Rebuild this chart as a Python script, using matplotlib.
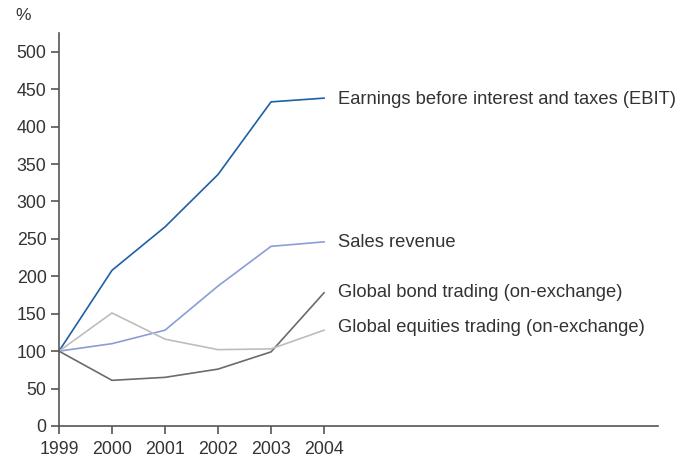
import matplotlib.pyplot as plt

years = [1999, 2000, 2001, 2002, 2003, 2004]
ebit = [100, 208, 266, 336, 433, 438]
sales = [100, 110, 128, 187, 240, 246]
bonds = [100, 61, 65, 76, 99, 178]
equities = [100, 151, 116, 102, 103, 128]

labels = ["Earnings before interest and taxes (EBIT)", "Sales revenue",
          "Global bond trading (on-exchange)", "Global equities trading (on-exchange)"]
label_y = [436, 245, 179, 132]

plt.rcParams['font.family'] = ['Liberation Sans', 'DejaVu Sans']
text_col = '#333333'
axis_col = '#555555'

fig = plt.figure(figsize=(6.9, 4.59), dpi=100)
ax = fig.add_axes([59/690, 33/459, 599/690, 393/459])

series = [ebit, sales, bonds, equities]
colors = ['#1f5fa6', '#8b9dd6', '#6b6b6b', '#bdbdbd']
for vals, c in zip(series, colors):
    ax.plot(years, vals, color=c, lw=1.2)

for lab, y in zip(labels, label_y):
    ax.text(2004.26, y, lab, va='center', ha='left', fontsize=13.2, color=text_col)

ax.set_xlim(1999, 2010.3)
ax.set_ylim(0, 525)
ax.set_xticks(years)
ax.set_yticks(range(0, 501, 50))
for s in ['top', 'right']:
    ax.spines[s].set_visible(False)
for s in ['left', 'bottom']:
    ax.spines[s].set_color(axis_col)
    ax.spines[s].set_linewidth(1.2)
ax.tick_params(colors=axis_col, labelcolor=text_col, labelsize=12.8, length=6, width=1.2, pad=3)
ax.tick_params(axis='x', pad=5)
ax.text(-0.072, 1.025, '%', transform=ax.transAxes, fontsize=12.5, color=text_col, va='bottom')

fig.savefig('out.png', dpi=100)
